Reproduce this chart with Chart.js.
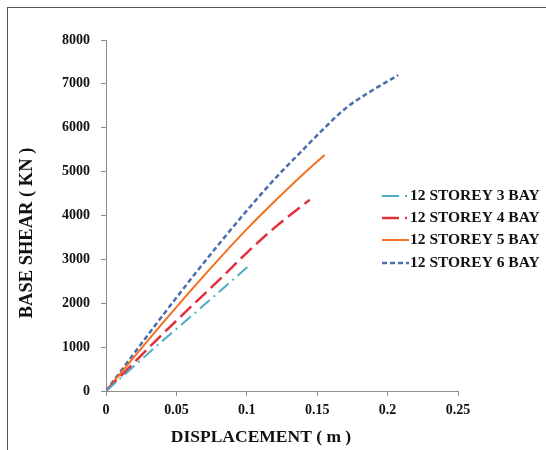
<!DOCTYPE html>
<html>
<head>
<meta charset="utf-8">
<script src="https://cdn.jsdelivr.net/npm/chart.js@4.4.0/dist/chart.umd.min.js"></script>
<style>
  html, body { margin: 0; padding: 0; background: #ffffff; }
  #wrap { position: relative; width: 546px; height: 450px; overflow: hidden; }
  #frame { position: absolute; left: 7px; top: 7px; width: 700px; height: 600px;
           border-left: 1px solid #555; border-top: 1px solid #555; }
  canvas { position: absolute; left: 0; top: 0; }
</style>
</head>
<body>
<div id="wrap">
  <div id="frame"></div>
  <canvas id="c" width="546" height="450"></canvas>
</div>
<script>
// ---- data ----
const seriesNames = ['12 STOREY 3 BAY', '12 STOREY 4 BAY', '12 STOREY 5 BAY', '12 STOREY 6 BAY'];

const disp3Bay  = [0, 0.02, 0.04, 0.06, 0.08, 0.101];
const shear3Bay = [0, 570, 1140, 1690, 2250, 2840];

const disp4Bay  = [0, 0.02, 0.04, 0.06, 0.08, 0.10, 0.12, 0.1447];
const shear4Bay = [0, 650, 1290, 1910, 2520, 3150, 3730, 4360];

const disp5Bay  = [0, 0.02, 0.04, 0.06, 0.08, 0.10, 0.12, 0.14, 0.1553];
const shear5Bay = [0, 780, 1540, 2280, 3000, 3690, 4330, 4940, 5380];

const disp6Bay  = [0, 0.02, 0.04, 0.06, 0.08, 0.10, 0.12, 0.14, 0.155, 0.17, 0.185, 0.2075];
const shear6Bay = [0, 860, 1710, 2540, 3340, 4110, 4840, 5500, 5990, 6440, 6770, 7200];

const xTickLabels = ['0', '0.05', '0.1', '0.15', '0.2', '0.25'];
const yTickLabels = ['0', '1000', '2000', '3000', '4000', '5000', '6000', '7000', '8000'];

const xTitle = 'DISPLACEMENT ( m )';
const yTitle = 'BASE SHEAR ( KN )';

// ---- build ----
function pts(xs, ys) { return xs.map((x, i) => ({ x: x, y: ys[i] })); }

const styles = [
  { color: '#4BACC6', width: 2,   dash: [13, 5, 2, 5] },
  { color: '#E2303B', width: 2.5, dash: [15, 6] },
  { color: '#F37021', width: 2,   dash: [] },
  { color: '#4A6EAD', width: 2.5, dash: [5, 3] }
];
const allX = [disp3Bay, disp4Bay, disp5Bay, disp6Bay];
const allY = [shear3Bay, shear4Bay, shear5Bay, shear6Bay];

const datasets = seriesNames.map((name, i) => ({
  label: name,
  data: pts(allX[i], allY[i]),
  borderColor: styles[i].color,
  backgroundColor: styles[i].color,
  borderWidth: styles[i].width,
  borderDash: styles[i].dash,
  borderCapStyle: 'butt',
  pointRadius: 0,
  fill: false,
  cubicInterpolationMode: 'monotone'
}));

const FONT = '"Liberation Serif", "Times New Roman", serif';

const extras = {
  id: 'extras',
  afterDraw(chart) {
    const ctx = chart.ctx;
    ctx.save();
    ctx.fillStyle = '#111';
    // axis titles
    ctx.font = 'bold 17.5px ' + FONT;
    ctx.textAlign = 'center';
    ctx.textBaseline = 'middle';
    ctx.fillText(xTitle, 261, 437);
    ctx.save();
    ctx.font = 'bold 18.5px ' + FONT;
    ctx.translate(27, 233);
    ctx.rotate(-Math.PI / 2);
    ctx.fillText(yTitle, 0, 0);
    ctx.restore();
    // legend
    const rowsY = [196, 218, 240, 263];
    ctx.font = 'bold 15.5px ' + FONT;
    ctx.textAlign = 'left';
    chart.data.datasets.forEach((ds, i) => {
      const y = rowsY[i];
      ctx.save();
      ctx.strokeStyle = ds.borderColor;
      ctx.lineWidth = ds.borderWidth;
      ctx.lineCap = 'butt';
      ctx.setLineDash(i < 2 ? [17, 6, 2, 6] : ds.borderDash);
      ctx.beginPath();
      ctx.moveTo(382, y);
      ctx.lineTo(409, y);
      ctx.stroke();
      ctx.restore();
      ctx.fillStyle = '#111';
      ctx.fillText(ds.label, 410, y);
    });
    ctx.restore();
  }
};

new Chart(document.getElementById('c'), {
  type: 'line',
  data: { datasets: datasets },
  options: {
    responsive: false,
    animation: false,
    devicePixelRatio: 1,
    layout: { padding: { left: 0, top: 40, right: 88, bottom: 0 } },
    plugins: { legend: { display: false }, tooltip: { enabled: false } },
    scales: {
      x: {
        type: 'linear',
        min: 0, max: 0.25,
        afterFit(s) { s.height = 59; },
        border: { display: true, color: '#8c8c8c', width: 1 },
        grid: { drawOnChartArea: false, drawTicks: true, tickLength: 5, color: '#8c8c8c' },
        ticks: {
          stepSize: 0.05,
          padding: 6,
          color: '#111',
          font: { family: FONT, size: 14, weight: 'bold' },
          callback(v, idx) { return xTickLabels[idx]; }
        }
      },
      y: {
        type: 'linear',
        min: 0, max: 8000,
        afterFit(s) { s.width = 106; },
        border: { display: true, color: '#8c8c8c', width: 1 },
        grid: { drawOnChartArea: false, drawTicks: true, tickLength: 5, color: '#8c8c8c' },
        ticks: {
          stepSize: 1000,
          padding: 11,
          color: '#111',
          font: { family: FONT, size: 14, weight: 'bold' },
          callback(v, idx) { return yTickLabels[idx]; }
        }
      }
    }
  },
  plugins: [extras]
});
</script>
</body>
</html>
